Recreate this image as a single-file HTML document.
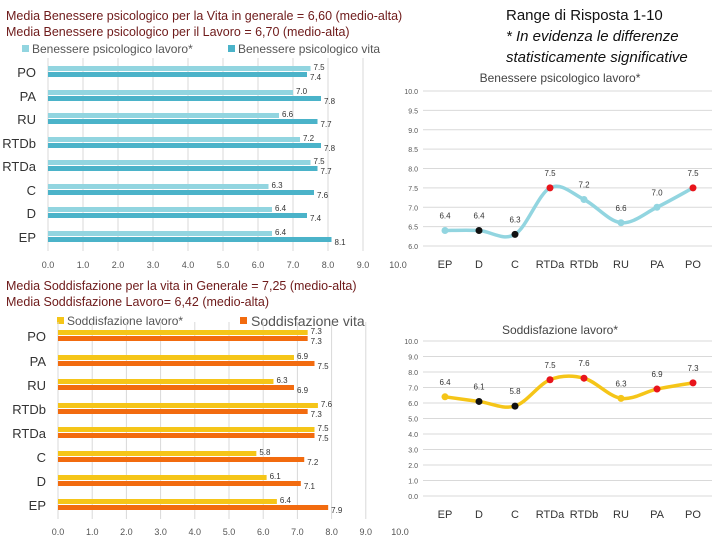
<!DOCTYPE html>
<html><head><meta charset="utf-8"><style>
body{margin:0;background:#fff;width:720px;height:540px;overflow:hidden;font-family:"Liberation Sans",sans-serif}
svg{position:absolute;left:0;top:0}
</style></head><body>
<svg id="s" width="720" height="540" xmlns="http://www.w3.org/2000/svg">
<text x="6" y="20" font-size="12.5" fill="#6e1a1a">Media Benessere psicologico per la Vita in generale  =  6,60 (medio-alta)</text>
<text x="6" y="36" font-size="12.5" fill="#6e1a1a">Media Benessere psicologico per il Lavoro = 6,70 (medio-alta)</text>
<text x="506" y="20" font-size="15" fill="#111">Range di Risposta 1-10</text>
<text x="506" y="41" font-size="15" font-style="italic" fill="#111">* In evidenza le differenze</text>
<text x="506" y="62" font-size="15" font-style="italic" fill="#111">statisticamente significative</text>
<rect x="22" y="45" width="7" height="7" fill="#92d5e0"/>
<text x="32" y="53" font-size="12" fill="#555">Benessere psicologico lavoro*</text>
<rect x="228" y="45" width="7" height="7" fill="#4bb3c9"/>
<text x="238" y="53" font-size="12" fill="#555">Benessere psicologico vita</text>
<text x="6" y="290" font-size="12.5" fill="#6e1a1a">Media Soddisfazione per la vita in Generale = 7,25 (medio-alta)</text>
<text x="6" y="306" font-size="12.5" fill="#6e1a1a">Media Soddisfazione Lavoro= 6,42 (medio-alta)</text>
<rect x="57" y="317" width="7" height="7" fill="#f5c518"/>
<text x="67" y="325" font-size="12" fill="#555">Soddisfazione lavoro*</text>
<rect x="240" y="317" width="7" height="7" fill="#f26b0f"/>
<text x="251" y="326" font-size="14" fill="#555">Soddisfazione vita</text>
<text x="560" y="82" font-size="12" fill="#444" text-anchor="middle">Benessere psicologico lavoro*</text>
<text x="560" y="334" font-size="12" fill="#444" text-anchor="middle">Soddisfazione lavoro*</text>
<g id="g"></g>
</svg>
<script>
const barCats=["PO","PA","RU","RTDb","RTDa","C","D","EP"];
const benLavoro=[7.5,7.0,6.6,7.2,7.5,6.3,6.4,6.4];
const benVita=[7.4,7.8,7.7,7.8,7.7,7.6,7.4,8.1];
const soddLavoro=[7.3,6.9,6.3,7.6,7.5,5.8,6.1,6.4];
const soddVita=[7.3,7.5,6.9,7.3,7.5,7.2,7.1,7.9];
const xTicks=[0,1,2,3,4,5,6,7,8,9,10];
const lineCats=["EP","D","C","RTDa","RTDb","RU","PA","PO"];
const lineBen=[6.4,6.4,6.3,7.5,7.2,6.6,7.0,7.5];
const lineBenSig=["n","b","b","r","n","n","n","r"];
const lineSodd=[6.4,6.1,5.8,7.5,7.6,6.3,6.9,7.3];
const lineSoddSig=["n","b","b","r","r","n","r","r"];
const benTicks=[6,6.5,7,7.5,8,8.5,9,9.5,10];
const soddTicks=[0,1,2,3,4,5,6,7,8,9,10];

const NS="http://www.w3.org/2000/svg";
const G=document.getElementById('g');
function el(t,a,txt){const e=document.createElementNS(NS,t);for(const k in a)e.setAttribute(k,a[k]);if(txt!==undefined)e.textContent=txt;G.appendChild(e);return e;}
const f1=v=>v.toFixed(1);

function barChart(x0,x10,rowY,cats,a,b,ca,cb,axisY,pfx){
  const sx=v=>x0+(x10-x0)*v/10;
  xTicks.forEach(t=>{
    if(t<10){const l=el('line',{x1:sx(t),x2:sx(t),y1:rowY[0]-14,y2:rowY[7]+14,stroke:'#d9d9d9'});
    }
    const tx=el('text',{x:sx(t),y:axisY,'font-size':9,fill:'#555','text-anchor':'middle'},f1(t));
    
  });
  cats.forEach((c,i)=>{
    const y=rowY[i];
    const lb=el('text',{x:x0-12,y:y+5,'font-size':13,fill:'#333','text-anchor':'end'},c);
    
    const r1=el('rect',{x:x0,y:y-6,width:sx(a[i])-x0,height:5,fill:ca});
    
    const r2=el('rect',{x:x0,y:y,width:sx(b[i])-x0,height:5,fill:cb});
    
    const t1=el('text',{x:sx(a[i])+3,y:y-2,'font-size':8,fill:'#333'},f1(a[i]));
    
    const t2=el('text',{x:sx(b[i])+3,y:y+8,'font-size':8,fill:'#333'},f1(b[i]));
    
  });
}
barChart(48,398,[72,96,119,143,166,190,213,237],barCats,benLavoro,benVita,'#92d5e0','#4bb3c9',268,'benessere');
barChart(58,400,[336,361,385,409,433,457,481,505],barCats,soddLavoro,soddVita,'#f5c518','#f26b0f',535,'soddisfazione');

const lx=[445,479,515,550,584,621,657,693];
function lineChart(vals,sig,ticks,vmin,vmax,yTop,yBot,col,labY,pfx){
  const sy=v=>yBot-(yBot-yTop)*(v-vmin)/(vmax-vmin);
  ticks.forEach(t=>{
    const l=el('line',{x1:423,x2:712,y1:sy(t),y2:sy(t),stroke:'#d9d9d9'});
    
    const tx=el('text',{x:418,y:sy(t)+3,'font-size':7,fill:'#555','text-anchor':'end'},f1(t));
    
  });
  const P=vals.map((v,i)=>[lx[i],sy(v)]);
  let d='M'+P[0][0]+','+P[0][1];
  for(let i=0;i<P.length-1;i++){
    const p0=P[Math.max(0,i-1)],p1=P[i],p2=P[i+1],p3=P[Math.min(P.length-1,i+2)];
    const c1=[p1[0]+(p2[0]-p0[0])/6,p1[1]+(p2[1]-p0[1])/6],c2=[p2[0]-(p3[0]-p1[0])/6,p2[1]-(p3[1]-p1[1])/6];
    d+=` C${c1[0]},${c1[1]} ${c2[0]},${c2[1]} ${p2[0]},${p2[1]}`;
  }
  const pa=el('path',{d:d,fill:'none',stroke:col,'stroke-width':3.5});
  
  P.forEach((p,i)=>{
    const fc=sig[i]==='r'?'#e8141b':sig[i]==='b'?'#111':col;
    const c=el('circle',{cx:p[0],cy:p[1],r:3.5,fill:fc});
    
    const t=el('text',{x:p[0],y:p[1]-12,'font-size':8,fill:'#333','text-anchor':'middle'},f1(vals[i]));
    
  });
  lineCats.forEach((c,i)=>{
    const t=el('text',{x:lx[i],y:labY,'font-size':11,fill:'#333','text-anchor':'middle'},c);
    
  });
}
lineChart(lineBen,lineBenSig,benTicks,6,10,91,246,'#92d5e0',268,'benessere');
lineChart(lineSodd,lineSoddSig,soddTicks,0,10,341,496,'#f5c518',518,'soddisfazione');
</script>
</body></html>
